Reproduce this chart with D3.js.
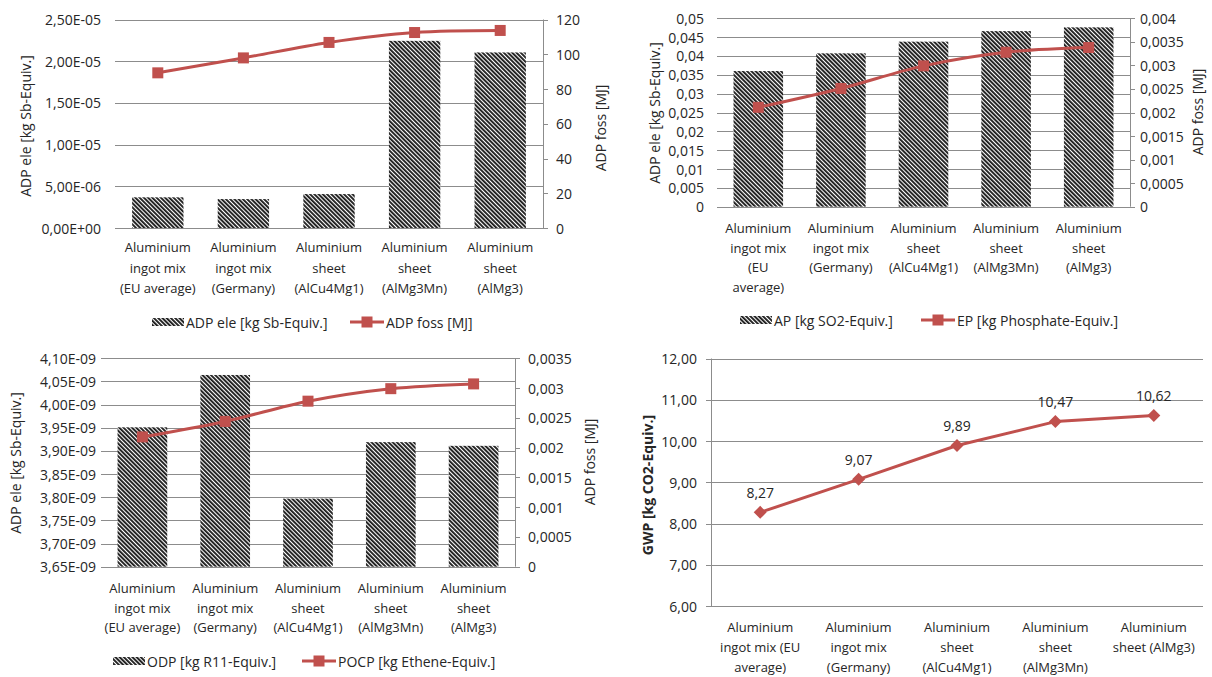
<!DOCTYPE html>
<html><head><meta charset="utf-8">
<script src="https://cdn.jsdelivr.net/npm/d3@7"></script>
<style>
body{margin:0;background:#fff}
svg text{font-family:"Open Sans",sans-serif;fill:#262626;font-size:13px}
svg text.tick{font-size:14px}
svg text.title, svg text.leg{font-size:14px}
</style>
</head><body>
<svg id="c" width="1212" height="677"></svg>
<script>
// ---------- DATA ----------
const categories = [
  "Aluminium ingot mix (EU average)",
  "Aluminium ingot mix (Germany)",
  "Aluminium sheet (AlCu4Mg1)",
  "Aluminium sheet (AlMg3Mn)",
  "Aluminium sheet (AlMg3)"
];
// category labels as they wrap in each panel
const catLinesA = [["Aluminium","ingot mix","(EU average)"],["Aluminium","ingot mix","(Germany)"],["Aluminium","sheet","(AlCu4Mg1)"],["Aluminium","sheet","(AlMg3Mn)"],["Aluminium","sheet","(AlMg3)"]];
const catLinesB = [["Aluminium","ingot mix","(EU","average)"],["Aluminium","ingot mix","(Germany)"],["Aluminium","sheet","(AlCu4Mg1)"],["Aluminium","sheet","(AlMg3Mn)"],["Aluminium","sheet","(AlMg3)"]];
const catLinesC = [["Aluminium","ingot mix (EU","average)"],["Aluminium","ingot mix","(Germany)"],["Aluminium","sheet","(AlCu4Mg1)"],["Aluminium","sheet","(AlMg3Mn)"],["Aluminium","sheet (AlMg3)"]];

const adpEle  = [3.68e-6, 3.47e-6, 4.07e-6, 2.244e-5, 2.105e-5];
const adpFoss = [89.3, 97.9, 106.8, 112.5, 113.7];
const ap      = [0.0360, 0.0407, 0.0438, 0.0466, 0.0476];
const ep      = [0.00211, 0.00251, 0.00299, 0.00328, 0.00338];
const odp     = [3.951e-9, 4.064e-9, 3.797e-9, 3.919e-9, 3.911e-9];
const pocp    = [0.00218, 0.00244, 0.00278, 0.00299, 0.00307];
const gwp     = [8.27, 9.07, 9.89, 10.47, 10.62];

const ticksAdpEle  = [0, 5e-6, 1e-5, 1.5e-5, 2e-5, 2.5e-5];
const ticksAdpFoss = [0, 20, 40, 60, 80, 100, 120];
const ticksAp      = [0, 0.005, 0.01, 0.015, 0.02, 0.025, 0.03, 0.035, 0.04, 0.045, 0.05];
const ticksEp      = [0, 0.0005, 0.001, 0.0015, 0.002, 0.0025, 0.003, 0.0035, 0.004];
const ticksOdp     = [3.65e-9, 3.70e-9, 3.75e-9, 3.80e-9, 3.85e-9, 3.90e-9, 3.95e-9, 4.00e-9, 4.05e-9, 4.10e-9];
const ticksPocp    = [0, 0.0005, 0.001, 0.0015, 0.002, 0.0025, 0.003, 0.0035];
const ticksGwp     = [6, 7, 8, 9, 10, 11, 12];

// ---------- FORMATTERS ----------
function fmtSci(v){
  if (v === 0) return "0,00E+00";
  let e = Math.floor(Math.log10(Math.abs(v)) + 1e-9);
  let m = v / Math.pow(10, e);
  if (Math.round(m*100) >= 1000){ m/=10; e+=1; }
  const es = (e<0?"-":"+") + String(Math.abs(e)).padStart(2,"0");
  return m.toFixed(2).replace(".", ",") + "E" + es;
}
function fmtPlain(v){ return String(+v.toFixed(6)).replace(".", ","); }
function fmt2(v){ return v.toFixed(2).replace(".", ","); }

const RED = "#C0504D", GRID = "#8c8c8c";
const svg = d3.select("#c");
svg.append("rect").attr("width",1212).attr("height",677).attr("fill","#fff");

const defs = svg.append("defs");
const pat = defs.append("pattern").attr("id","hatch").attr("patternUnits","userSpaceOnUse")
  .attr("width",3).attr("height",3).attr("patternTransform","rotate(-45)");
pat.append("rect").attr("width",3).attr("height",3).attr("fill","#fff");
pat.append("rect").attr("width",1.9).attr("height",3).attr("fill","#1c1c1c");

function panel(c){
  const g = svg.append("g");
  const xb = d3.scaleBand().domain(categories).range([c.x0, c.x1]);
  const yL = d3.scaleLinear().domain(c.leftDomain).range([c.y1, c.y0]);
  // gridlines
  g.selectAll(".gl").data(c.leftTicks).join("line")
    .attr("x1", c.x0).attr("x2", c.x1)
    .attr("y1", d=>Math.round(yL(d))+0.5).attr("y2", d=>Math.round(yL(d))+0.5)
    .attr("stroke", GRID).attr("stroke-width",1);
  // left tick labels
  g.selectAll(".tl").data(c.leftTicks).join("text").attr("class","tick")
    .attr("x", c.leftLabelX).attr("y", d=>yL(d)).attr("text-anchor","end")
    .attr("dominant-baseline","central").text(c.leftFmt);
  if (c.leftAxisLine){
    g.append("line").attr("x1",c.x0+0.5).attr("x2",c.x0+0.5).attr("y1",c.y0).attr("y2",c.y1).attr("stroke",GRID);
    g.selectAll(".lt").data(c.leftTicks).join("line")
      .attr("x1",c.x0-5).attr("x2",c.x0).attr("y1",d=>Math.round(yL(d))+0.5).attr("y2",d=>Math.round(yL(d))+0.5).attr("stroke",GRID);
  }
  // bars
  if (c.bars){
    const bw = xb.bandwidth()*c.barFrac;
    g.selectAll(".bar").data(c.bars).join("rect")
      .attr("x",(d,i)=>xb(categories[i]) + (xb.bandwidth()-bw)/2)
      .attr("width", bw)
      .attr("y", d=>yL(d)).attr("height", d=>c.y1 - yL(d))
      .attr("fill","url(#hatch)");
  }
  // right axis
  let yR = yL;
  if (c.rightDomain){
    yR = d3.scaleLinear().domain(c.rightDomain).range([c.y1, c.y0]);
    g.append("line").attr("x1",c.x1+0.5).attr("x2",c.x1+0.5).attr("y1",c.y0).attr("y2",c.y1).attr("stroke",GRID);
    g.selectAll(".rt").data(c.rightTicks).join("line")
      .attr("x1",c.x1).attr("x2",c.x1+5)
      .attr("y1",d=>Math.round(yR(d))+0.5).attr("y2",d=>Math.round(yR(d))+0.5).attr("stroke",GRID);
    g.selectAll(".rl").data(c.rightTicks).join("text").attr("class","tick")
      .attr("x", c.rightLabelX).attr("y", d=>yR(d)).attr("dominant-baseline","central")
      .text(c.rightFmt);
  }
  // line series
  const pts = c.line.map((v,i)=>[xb(categories[i]) + xb.bandwidth()/2, yR(v)]);
  g.append("path").attr("d", d3.line().curve(c.smooth ? d3.curveCatmullRom : d3.curveLinear)(pts))
    .attr("fill","none").attr("stroke",RED).attr("stroke-width",3).attr("stroke-linejoin","round");
  if (c.marker === "square"){
    g.selectAll(".mk").data(pts).join("rect")
      .attr("x",d=>d[0]-5.5).attr("y",d=>d[1]-5.5).attr("width",11).attr("height",11).attr("fill",RED);
  } else {
    g.selectAll(".mk").data(pts).join("path")
      .attr("transform",d=>`translate(${d[0]},${d[1]})`)
      .attr("d","M0,-6.5L6.5,0L0,6.5L-6.5,0Z").attr("fill",RED);
  }
  if (c.dataLabels){
    g.selectAll(".dl").data(c.line).join("text").attr("class","leg")
      .attr("x",(d,i)=>pts[i][0]).attr("y",(d,i)=>pts[i][1]-20)
      .attr("text-anchor","middle").attr("dominant-baseline","central").text(fmt2);
  }
  // category labels
  c.catLines.forEach((lines,i)=>{
    const cx = xb(categories[i]) + xb.bandwidth()/2;
    lines.forEach((t,j)=>{
      g.append("text").attr("x",cx).attr("y",c.catY + j*c.catLH)
        .attr("text-anchor","middle").attr("dominant-baseline","central").text(t);
    });
  });
  // axis titles
  const lt = g.append("text").attr("class","title").attr("transform",`translate(${c.leftTitle.x},${c.leftTitle.y}) rotate(-90)`)
    .attr("text-anchor","middle").attr("dominant-baseline","central").text(c.leftTitle.text);
  if (c.leftTitle.bold) lt.attr("font-weight","bold");
  if (c.rightTitle){
    g.append("text").attr("class","title").attr("transform",`translate(${c.rightTitle.x},${c.rightTitle.y}) rotate(-90)`)
      .attr("text-anchor","middle").attr("dominant-baseline","central").text(c.rightTitle.text);
  }
  // legend
  if (c.legend){
    const L = c.legend;
    g.append("rect").attr("x",L.swatchX).attr("y",L.y-4).attr("width",32).attr("height",8).attr("fill","url(#hatch)");
    g.append("text").attr("class","leg").attr("x",L.swatchX+34).attr("y",L.y).attr("dominant-baseline","central").text(L.barText);
    g.append("line").attr("x1",L.lineX).attr("x2",L.lineX+34).attr("y1",L.y).attr("y2",L.y).attr("stroke",RED).attr("stroke-width",3);
    g.append("rect").attr("x",L.lineX+17-5.5).attr("y",L.y-5.5).attr("width",11).attr("height",11).attr("fill",RED);
    g.append("text").attr("class","leg").attr("x",L.lineX+36).attr("y",L.y).attr("dominant-baseline","central").text(L.lineText);
  }
}

panel({x0:115, x1:543, y0:19.5, y1:228,
  leftDomain:[0,2.5e-5], leftTicks:ticksAdpEle, leftFmt:fmtSci, leftLabelX:101,
  rightDomain:[0,120], rightTicks:ticksAdpFoss, rightFmt:fmtPlain, rightLabelX:556,
  bars:adpEle, barFrac:0.6, line:adpFoss, marker:"square", smooth:true,
  catLines:catLinesA, catY:247, catLH:20.5,
  leftTitle:{text:"ADP ele [kg Sb-Equiv.]", x:25, y:126},
  rightTitle:{text:"ADP foss [MJ]", x:600, y:128},
  legend:{y:322, swatchX:152, barText:"ADP ele [kg Sb-Equiv.]", lineX:350, lineText:"ADP foss [MJ]"}});

panel({x0:717, x1:1130, y0:18.3, y1:206.7,
  leftDomain:[0,0.05], leftTicks:ticksAp, leftFmt:fmtPlain, leftLabelX:704,
  rightDomain:[0,0.004], rightTicks:ticksEp, rightFmt:fmtPlain, rightLabelX:1140,
  bars:ap, barFrac:0.6, line:ep, marker:"square", smooth:true,
  catLines:catLinesB, catY:228, catLH:19.5,
  leftTitle:{text:"ADP ele [kg Sb-Equiv.]", x:654, y:113},
  rightTitle:{text:"ADP foss [MJ]", x:1197, y:112},
  legend:{y:320, swatchX:740, barText:"AP [kg SO2-Equiv.]", lineX:921, lineText:"EP [kg Phosphate-Equiv.]"}});

panel({x0:101, x1:515, y0:358.3, y1:566.7,
  leftDomain:[3.65e-9,4.10e-9], leftTicks:ticksOdp, leftFmt:fmtSci, leftLabelX:96,
  rightDomain:[0,0.0035], rightTicks:ticksPocp, rightFmt:fmtPlain, rightLabelX:528,
  bars:odp, barFrac:0.6, line:pocp, marker:"square", smooth:true,
  catLines:catLinesA, catY:588, catLH:19.5,
  leftTitle:{text:"ADP ele [kg Sb-Equiv.]", x:15, y:463},
  rightTitle:{text:"ADP foss [MJ]", x:589, y:462},
  legend:{y:661, swatchX:113, barText:"ODP [kg R11-Equiv.]", lineX:302, lineText:"POCP [kg Ethene-Equiv.]"}});

panel({x0:711, x1:1203, y0:358.5, y1:606,
  leftDomain:[6,12], leftTicks:ticksGwp, leftFmt:fmt2, leftLabelX:697, leftAxisLine:true,
  line:gwp, marker:"diamond", dataLabels:true, smooth:false,
  catLines:catLinesC, catY:627, catLH:20,
  leftTitle:{text:"GWP [kg CO2-Equiv.]", x:647, y:485, bold:true}});
</script>
</body></html>
